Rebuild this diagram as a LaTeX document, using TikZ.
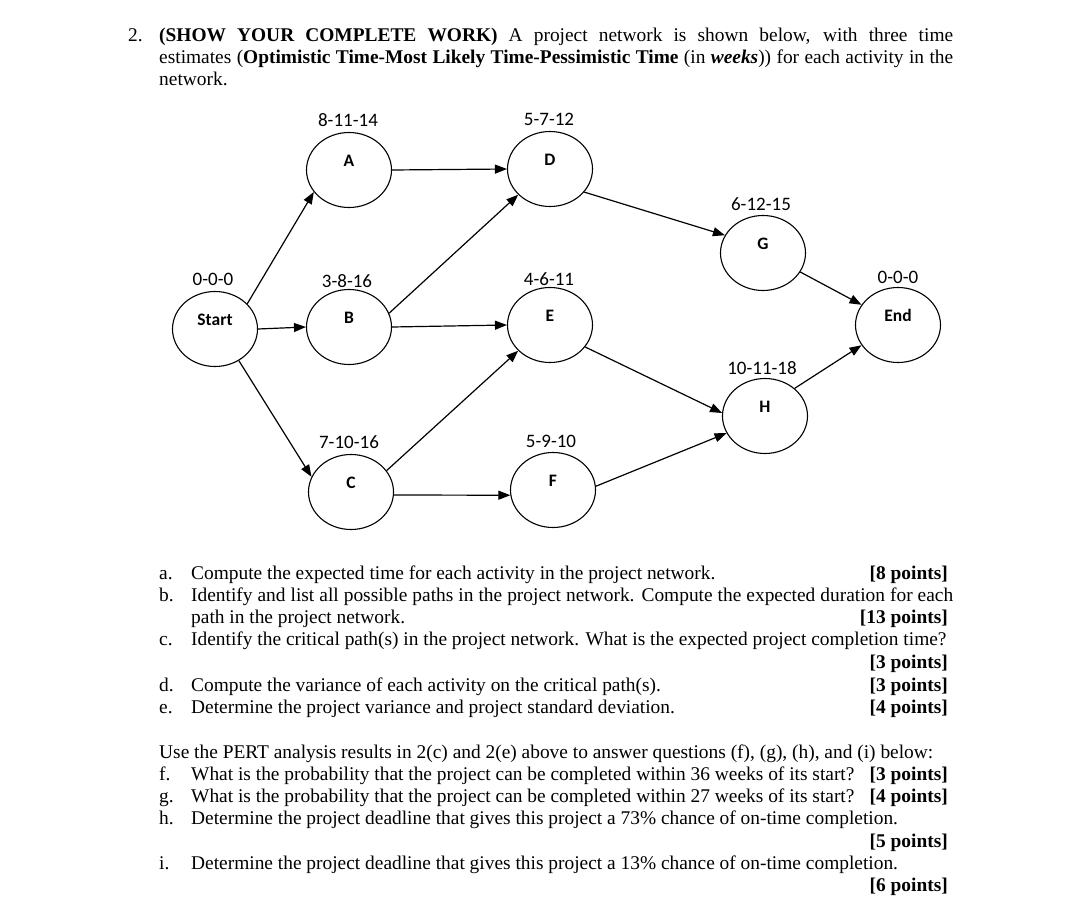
\documentclass[tikz,border=0pt]{standalone}
\usepackage{fontspec}
\setmainfont{Liberation Serif}
\newfontfamily\labfont{Carlito}
\usetikzlibrary{shapes.geometric,arrows.meta}
\tikzset{
  nd/.style={draw, ellipse, line width=1.1pt, minimum width=85pt, minimum height=75pt,
    inner sep=0pt, font=\labfont\bfseries\fontsize{17.5}{17.5}\selectfont,
    text height=12pt, text depth=19pt},
  est/.style={anchor=base, inner sep=0pt, font=\labfont\fontsize{19}{19}\selectfont},
  arr/.style={line width=1.2pt, -{Triangle[length=12pt,width=9pt]}},
  tx/.style={anchor=base west, inner sep=0pt, font=\fontsize{19.4}{22}\selectfont},
  pt/.style={anchor=base east, inner sep=0pt, font=\fontsize{19.4}{22}\selectfont\bfseries}
}
\begin{document}
\begin{tikzpicture}[x=1pt,y=-1pt]
\useasboundingbox (0,0) rectangle (1080,907);
\fill[white] (0,0) rectangle (1080,907);

% header text
\node[tx] (n2) at (128,42) {2.};
\node[tx] (h1) at (159,42) {\makebox[794pt][s]{\textbf{(SHOW YOUR COMPLETE WORK)} A project network is shown below, with three time}};
\node[tx] (h2) at (159,64) {\makebox[794pt][s]{estimates (\textbf{Optimistic Time-Most Likely Time-Pessimistic Time} (in \textbf{\textit{weeks}})) for each activity in the}};
\node[tx] (h3) at (159,86) {network.};

% network nodes
\node[nd] (S) at (215,329) {Start};
\node[nd] (A) at (349,170) {A};
\node[nd] (B) at (349,327) {B};
\node[nd] (C) at (351,492) {C};
\node[nd] (D) at (550,169) {D};
\node[nd] (E) at (550,325) {E};
\node[nd] (F) at (553,490) {F};
\node[nd] (G) at (763,253) {G};
\node[nd] (H) at (765,416) {H};
\node[nd] (End) at (898,325) {End};

% time estimates
\node[est] (tS) at (213,285) {0-0-0};
\node[est] (tA) at (348,127) {8-11-14};
\node[est] (tB) at (347,287) {3-8-16};
\node[est] (tC) at (349,448) {7-10-16};
\node[est] (tD) at (549,125) {5-7-12};
\node[est] (tE) at (549,285) {4-6-11};
\node[est] (tF) at (551,447) {5-9-10};
\node[est] (tG) at (761,210) {6-12-15};
\node[est] (tH) at (762,374) {10-11-18};
\node[est] (tEnd) at (898,283) {0-0-0};

% connectors
\draw[arr] (S.38) -- (A.212);
\draw[arr] (A.0) -- (D.180);
\draw[arr] (S.0) -- (B.180);
\draw[arr] (B.19) -- (D.219);
\draw[arr] (B.0) -- (E.180);
\draw[arr] (S.-53) -- (C.159);
\draw[arr] (C.31) -- (E.219);
\draw[arr] (C.-4) -- (F.187);
\draw[arr] (D.-34) -- (G.155);
\draw[arr] (E.-32) -- (H.176);
\draw[arr] (F.5) -- (H.204);
\draw[arr] (G.-27) -- (End.151);
\draw[arr] (H.43) -- (End.209);

% questions a-e
\node[tx] (la) at (159,579) {a.};
\node[tx] (qa) at (191,579) {Compute the expected time for each activity in the project network.};
\node[pt] (pa) at (948,579) {[8 points]};
\node[tx] (lb) at (159,601) {b.};
\node[tx] (qb1) at (191,601) {\makebox[762pt][s]{Identify and list all possible paths in the project network. Compute the expected duration for each}};
\node[tx] (qb2) at (191,623) {path in the project network.};
\node[pt] (pb) at (948,623) {[13 points]};
\node[tx] (lc) at (159,645) {c.};
\node[tx] (qc) at (191,645) {Identify the critical path(s) in the project network. What is the expected project completion time?};
\node[pt] (pc) at (948,668) {[3 points]};
\node[tx] (ld) at (159,691) {d.};
\node[tx] (qd) at (191,691) {Compute the variance of each activity on the critical path(s).};
\node[pt] (pd) at (948,691) {[3 points]};
\node[tx] (le) at (159,713) {e.};
\node[tx] (qe) at (191,713) {Determine the project variance and project standard deviation.};
\node[pt] (pe) at (948,713) {[4 points]};

% questions f-i
\node[tx] (use) at (159,758) {Use the PERT analysis results in 2(c) and 2(e) above to answer questions (f), (g), (h), and (i) below:};
\node[tx] (lf) at (159,780) {f.};
\node[tx] (qf) at (191,780) {What is the probability that the project can be completed within 36 weeks of its start?};
\node[pt] (pf) at (948,780) {[3 points]};
\node[tx] (lg) at (159,802) {g.};
\node[tx] (qg) at (191,802) {What is the probability that the project can be completed within 27 weeks of its start?};
\node[pt] (pg) at (948,802) {[4 points]};
\node[tx] (lh) at (159,824) {h.};
\node[tx] (qh) at (191,824) {Determine the project deadline that gives this project a 73\% chance of on-time completion.};
\node[pt] (ph) at (948,847) {[5 points]};
\node[tx] (li) at (159,869) {i.};
\node[tx] (qi) at (191,869) {Determine the project deadline that gives this project a 13\% chance of on-time completion.};
\node[pt] (pi) at (948,891) {[6 points]};
\end{tikzpicture}
\end{document}
